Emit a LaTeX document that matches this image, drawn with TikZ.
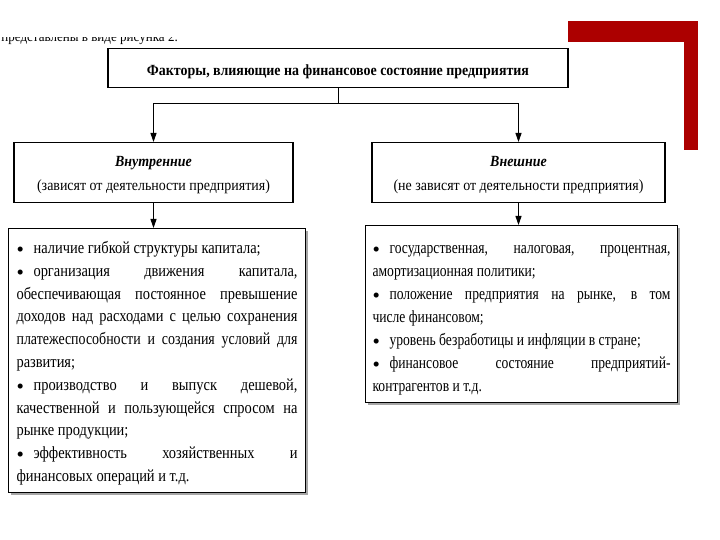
\documentclass[tikz,border=0pt]{standalone}
\usepackage{fontspec}
\setmainfont{Liberation Serif}
\newfontfamily\headfont[FakeStretch=0.90]{Liberation Serif}
\newfontfamily\leftfont[FakeStretch=0.85]{Liberation Serif}
\newfontfamily\tightfont[FakeStretch=0.82]{Liberation Serif}
\newfontfamily\rightfont[FakeStretch=0.80]{Liberation Serif}
\newfontfamily\bulfont{Liberation Serif}
\usetikzlibrary{arrows.meta,shadows,calc}
\definecolor{barred}{RGB}{172,0,0}
\newcommand\bul{\makebox[17pt][l]{\raisebox{-2.8pt}{\bulfont\fontsize{21}{21}\selectfont•}}}
\newcommand\topstrut[1]{\rule{0pt}{#1}}
\newcommand\botstrut[1]{\rule[-#1]{0pt}{#1}}
\tikzset{
  box/.style={draw=black, line width=1.1pt, fill=white, inner ysep=0pt},
  listbox/.style={box, drop shadow={shadow xshift=2.2pt, shadow yshift=-2.2pt, fill=gray!70, opacity=1},
    align=justify, anchor=north west},
  arr/.style={line width=0.9pt, -{Triangle[length=9pt,width=6pt]}},
  ln/.style={line width=0.9pt}
}
\begin{document}
\begin{tikzpicture}[x=1pt,y=-1pt]
\useasboundingbox[fill=white] (0,0) rectangle (720,540);
% red corner
\fill[barred] (568,21) rectangle (698,42);
\fill[barred] (684,21) rectangle (698,150);
% clipped text at top left
\begin{scope}
\clip (0,38) rectangle (200,52);
\node[anchor=base east, inner sep=0pt, font=\headfont\fontsize{14.5}{15}\selectfont] (cut) at (178,42) {представлены в виде рисунка 2.};
\end{scope}
% top box
\node[box, minimum width=460pt, anchor=north, font=\headfont\bfseries\fontsize{15.5}{16}\selectfont] (top) at (338,48)
  {\topstrut{27pt}Факторы, влияющие на финансовое состояние предприятия\botstrut{12pt}};
% middle boxes
\node[box, minimum width=279pt, anchor=north, align=center, font=\headfont\fontsize{15.5}{24}\selectfont] (inner) at (153.5,142)
  {\topstrut{24pt}\textbf{\textit{Внутренние}}\\(зависят от деятельности предприятия)\botstrut{12pt}};
\node[box, minimum width=293pt, anchor=north, align=center, font=\headfont\fontsize{15.5}{24}\selectfont] (outer) at (518.5,142)
  {\topstrut{24pt}\textbf{\textit{Внешние}}\\(не зависят от деятельности предприятия)\botstrut{12pt}};
% bottom boxes
\node[listbox, text width=281pt, inner xsep=8pt, font=\leftfont\fontsize{17}{22.8}\selectfont] (ilist) at (8,228)
  {\parindent=0pt
  \topstrut{25pt}\bul наличие гибкой структуры капитала;\par
  \bul организация движения капитала,\linebreak
  обеспечивающая постоянное превышение\linebreak
  доходов над расходами с целью сохранения\linebreak
  {\tightfont платежеспособности и создания условий для}\linebreak
  развития;\par
  \bul производство и выпуск дешевой,\linebreak
  качественной и пользующейся спросом на\linebreak
  рынке продукции;\par
  \bul эффективность хозяйственных и\linebreak
  финансовых операций и т.д.\botstrut{11pt}};
\node[listbox, text width=298pt, inner xsep=7pt, font=\rightfont\fontsize{17}{23}\selectfont] (olist) at (365,225)
  {\parindent=0pt
  \topstrut{28pt}\bul государственная, налоговая, процентная,\linebreak
  амортизационная политики;\par
  \bul положение предприятия на рынке, в том\linebreak
  числе финансовом;\par
  \bul уровень безработицы и инфляции в стране;\par
  \bul финансовое состояние предприятий-\linebreak
  контрагентов и т.д.\botstrut{11pt}};
% connectors
\coordinate (split) at (338,103);
\draw[ln] (top.south) -- (split);
\draw[arr] (split) -| (inner.north);
\draw[arr] (split) -| (outer.north);
\draw[arr] (inner.south) -- (inner.south |- ilist.north);
\draw[arr] (outer.south) -- (outer.south |- olist.north);
\end{tikzpicture}
\end{document}
